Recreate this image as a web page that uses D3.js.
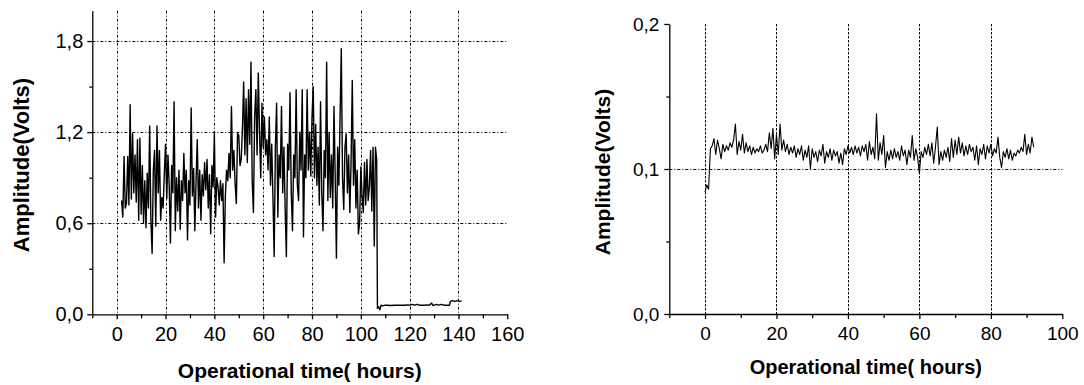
<!DOCTYPE html>
<html>
<head>
<meta charset="utf-8">
<script src="https://cdn.jsdelivr.net/npm/d3@7"></script>
<style>
body { margin: 0; background: #fff; }
text { font-family: "Liberation Sans", Arial, sans-serif; fill: #000; }
</style>
</head>
<body>
<div id="chart"></div>
<script>
// Left panel: amplitude sampled every 0.5 h from 2 h until the drop
var leftStart = 2, leftStep = 0.5;
var leftAmp = [
    0.75,0.64,1.04,0.70,0.73,1.04,0.72,1.38,0.76,1.19,0.80,1.05,0.74,1.15,0.62,1.16,0.66,
    0.98,0.60,0.88,0.57,0.93,0.70,1.24,0.62,0.40,0.95,1.08,0.58,1.24,0.80,1.08,0.62,0.77,0.70,0.92,1.12,
    0.76,1.05,0.85,0.47,0.98,0.80,1.40,0.55,0.90,0.68,0.95,0.56,0.88,0.75,1.06,0.80,0.95,0.49,0.88,0.72,
    1.36,0.78,0.96,0.55,0.88,1.15,0.70,0.95,0.62,0.92,0.78,1.00,0.82,1.02,0.70,0.92,0.53,0.98,0.84,1.19,
    0.64,0.90,0.84,0.72,0.88,0.75,0.86,0.34,0.78,0.95,0.88,1.06,0.90,1.37,0.95,1.08,0.86,0.73,1.19,1.18,
    0.98,1.02,1.22,1.53,1.05,1.42,1.00,1.48,1.12,1.66,0.88,0.67,1.30,1.48,1.05,1.59,1.20,0.90,1.39,1.10,
    1.30,1.05,1.15,0.95,1.30,0.85,1.12,0.77,0.38,1.10,1.39,0.64,1.05,0.90,1.37,0.80,1.10,0.70,0.38,1.12,
    0.95,1.46,0.80,0.55,1.05,0.90,1.48,0.85,0.75,1.20,0.95,1.48,0.51,1.05,0.90,1.48,0.95,1.20,0.91,1.30,
    1.50,0.90,1.25,0.85,1.10,0.72,1.40,0.80,0.55,1.08,0.90,1.66,0.75,1.20,0.77,1.05,0.70,1.37,0.90,0.37,
    1.10,0.85,1.30,1.75,0.90,0.69,1.10,1.19,0.80,1.05,0.67,1.00,1.54,0.85,1.15,0.70,0.95,0.53,0.60,0.97,
    0.78,0.67,1.00,0.72,1.02,0.75,0.84,1.08,0.68,1.10,0.45,1.10,1.02
];
// after the drop (irregular times)
var leftTailTime = [106.8,107.3,107.8,108.3,109,110,111,112,114,116,118,119,120,121,122,123,124,126,127,128,129,129.4,130,131,132,133,134,135,136.3,136.7,137.5,138.5,139.5,140.5,141.3];
var leftTailAmp  = [0.04,0.05,0.03,0.06,0.055,0.06,0.06,0.058,0.06,0.06,0.06,0.062,0.06,0.065,0.06,0.066,0.06,0.06,0.062,0.06,0.075,0.06,0.06,0.065,0.06,0.066,0.06,0.06,0.06,0.085,0.09,0.085,0.09,0.085,0.088];

// Right panel: amplitude every 0.5 h from 0 h
var rightStart = 0, rightStep = 0.5;
var rightAmp = [
    0.084,0.089,0.086,0.114,0.116,0.121,0.110,0.120,0.114,0.107,0.117,0.112,0.116,0.113,0.118,0.115,0.120,0.131,0.110,0.119,
    0.113,0.124,0.111,0.118,0.112,0.116,0.110,0.115,0.111,0.114,0.112,0.116,0.111,0.113,0.117,0.112,0.125,0.114,0.128,0.107,
    0.124,0.110,0.131,0.113,0.120,0.112,0.117,0.110,0.115,0.111,0.116,0.108,0.114,0.110,0.116,0.106,0.113,0.108,0.116,0.100,
    0.114,0.108,0.112,0.105,0.113,0.109,0.117,0.104,0.112,0.108,0.114,0.106,0.113,0.109,0.112,0.104,0.111,0.103,0.114,0.110,
    0.116,0.111,0.115,0.110,0.116,0.111,0.115,0.109,0.116,0.112,0.117,0.106,0.119,0.110,0.115,0.107,0.138,0.106,0.118,0.110,
    0.123,0.101,0.112,0.106,0.113,0.107,0.114,0.108,0.112,0.106,0.116,0.109,0.113,0.103,0.113,0.108,0.123,0.106,0.114,0.108,
    0.097,0.112,0.108,0.115,0.110,0.117,0.109,0.118,0.104,0.115,0.129,0.103,0.112,0.106,0.113,0.108,0.115,0.105,0.121,0.108,
    0.120,0.110,0.122,0.111,0.118,0.109,0.116,0.110,0.117,0.112,0.115,0.106,0.116,0.103,0.114,0.110,0.117,0.107,0.116,0.111,
    0.117,0.109,0.114,0.111,0.122,0.108,0.101,0.112,0.108,0.114,0.107,0.113,0.106,0.111,0.109,0.113,0.111,0.115,0.112,0.124,
    0.110,0.117,0.111,0.122,0.115
];

// ticks and grid
var leftXTicks = [0,20,40,60,80,100,120,140,160];
var leftXMinor = [-10,10,30,50,70,90,110,130,150];
var leftYTicks = [0,0.6,1.2,1.8];
var leftYMinor = [0.3,0.9,1.5];
var leftGridX = [0,20,40,60,80,100,120,140];
var leftGridY = [0.6,1.2,1.8];

var rightXTicks = [0,20,40,60,80,100];
var rightXMinor = [-10,10,30,50,70,90];
var rightYTicks = [0,0.1,0.2];
var rightYMinor = [0.05,0.15];
var rightGridX = [0,20,40,60,80];
var rightGridY = [0.1];

var xTitle = "Operational time( hours)";
var yTitle = "Amplitude(Volts)";

var svg = d3.select("#chart")
    .append("svg")
    .attr("width", 1084)
    .attr("height", 385)
    .style("display", "block");

var commaFmt = function(d) { return d3.format(".1f")(d).replace(".", ","); };

function drawPanel(p) {
    var x = d3.scaleLinear().domain(p.xDomain).range(p.xRange);
    var y = d3.scaleLinear().domain(p.yDomain).range(p.yRange);
    var g = svg.append("g");

    // grid lines
    g.selectAll(".gx").data(p.gridX).enter().append("line")
        .attr("x1", function(d) { return Math.round(x(d)) + 0.5; })
        .attr("x2", function(d) { return Math.round(x(d)) + 0.5; })
        .attr("y1", y(p.yDomain[1]))
        .attr("y2", y(0))
        .attr("stroke", "#000")
        .attr("stroke-width", 1)
        .attr("stroke-dasharray", p.vDash);

    g.selectAll(".gy").data(p.gridY).enter().append("line")
        .attr("x1", x(p.xDomain[0]))
        .attr("x2", x(p.xDomain[1]))
        .attr("y1", function(d) { return Math.round(y(d)) + 0.5; })
        .attr("y2", function(d) { return Math.round(y(d)) + 0.5; })
        .attr("stroke", "#000")
        .attr("stroke-width", 1)
        .attr("stroke-dasharray", "3,2,1,2");

    // trace
    var line = d3.line()
        .x(function(d) { return x(d[0]); })
        .y(function(d) { return y(d[1]); });
    g.append("path")
        .datum(p.points)
        .attr("fill", "none")
        .attr("stroke", "#000")
        .attr("stroke-width", p.lineWidth)
        .attr("stroke-linejoin", "round")
        .attr("d", line);

    // minor ticks
    g.append("g")
        .attr("transform", "translate(0," + y(0) + ")")
        .call(d3.axisBottom(x).tickValues(p.xMinor).tickSize(4).tickFormat(""))
        .call(function(a) { a.select(".domain").remove(); });
    g.append("g")
        .attr("transform", "translate(" + x(p.xDomain[0]) + ",0)")
        .call(d3.axisLeft(y).tickValues(p.yMinor).tickSize(3).tickFormat(""))
        .call(function(a) { a.select(".domain").remove(); });

    // x axis
    var xa = g.append("g")
        .attr("transform", "translate(0," + y(0) + ")")
        .call(d3.axisBottom(x).tickValues(p.xTicks).tickSize(5).tickSizeOuter(0).tickPadding(p.xPad).tickFormat(d3.format("d")));
    xa.selectAll("text").attr("font-size", p.tickFont).attr("font-family", null);

    // y axis
    var ya = g.append("g")
        .attr("transform", "translate(" + x(p.xDomain[0]) + ",0)")
        .call(d3.axisLeft(y).tickValues(p.yTicks).tickSize(5).tickSizeOuter(0).tickPadding(p.yPad).tickFormat(commaFmt));
    ya.selectAll("text").attr("font-size", p.tickFont).attr("font-family", null);

    g.selectAll(".domain, .tick line").attr("stroke", "#000").attr("stroke-width", 1.3);

    // titles
    g.append("text")
        .attr("x", (p.xRange[0] + p.xRange[1]) / 2)
        .attr("y", p.xTitleY)
        .attr("text-anchor", "middle")
        .attr("font-weight", "bold")
        .attr("font-size", p.titleFont)
        .text(xTitle);

    g.append("text")
        .attr("transform", "translate(" + p.yTitleX + "," + p.yTitleY + ") rotate(-90)")
        .attr("dy", "0.35em")
        .attr("text-anchor", "middle")
        .attr("font-weight", "bold")
        .attr("font-size", p.yTitleFont)
        .text(yTitle);
}

var leftPoints = leftAmp.map(function(v, i) { return [leftStart + i * leftStep, v]; })
    .concat(leftTailTime.map(function(t, i) { return [t, leftTailAmp[i]]; }));
var rightPoints = rightAmp.map(function(v, i) { return [rightStart + i * rightStep, v]; });

drawPanel({
    xDomain: [-10, 160], xRange: [92.3, 507.3],
    yDomain: [0, 2], yRange: [314.3, 10.7],
    xTicks: leftXTicks, xMinor: leftXMinor, yTicks: leftYTicks, yMinor: leftYMinor,
    gridX: leftGridX, gridY: leftGridY, vDash: "3,2,1,2",
    points: leftPoints, lineWidth: 1.4,
    tickFont: "20px", titleFont: "21px", yTitleFont: "22px",
    xPad: 8, yPad: 4,
    xTitleY: 378, yTitleX: 21.5, yTitleY: 165
});

drawPanel({
    xDomain: [-10, 100], xRange: [669.3, 1062.3],
    yDomain: [0, 0.2], yRange: [314, 24],
    xTicks: rightXTicks, xMinor: rightXMinor, yTicks: rightYTicks, yMinor: rightYMinor,
    gridX: rightGridX, gridY: rightGridY, vDash: "2.5,1.5",
    points: rightPoints, lineWidth: 1.1,
    tickFont: "19px", titleFont: "20px", yTitleFont: "21px",
    xPad: 8, yPad: 5,
    xTitleY: 373.5, yTitleX: 602.5, yTitleY: 172
});
</script>
</body>
</html>
